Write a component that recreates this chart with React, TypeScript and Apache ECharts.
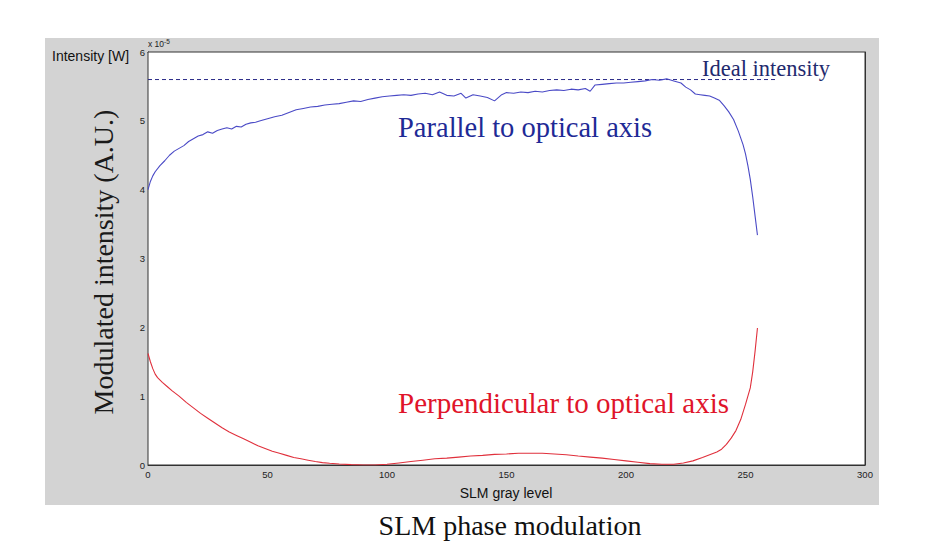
import React, { useEffect, useRef } from "react";
import * as echarts from "echarts";

// gray levels and measured intensities (x 10^-5 W)
const parallelX = [0, 1, 2, 3, 5, 7, 9, 11, 13, 15, 17, 19, 21, 23, 25, 27, 29, 31, 33, 35, 37, 39, 41, 43, 45, 47, 50, 53, 56, 59, 62, 65, 68, 71, 74, 77, 80, 83, 86, 89, 92, 95, 98, 101, 104, 107, 110, 113, 116, 119, 122, 125, 128, 131, 133, 136, 139, 142, 145, 148, 150, 153, 156, 159, 162, 165, 168, 171, 174, 177, 180, 183, 185, 187, 190, 193, 196, 199, 202, 205, 208, 211, 214, 217, 220, 223, 225, 227, 229, 231, 233, 235, 237, 239, 241, 243, 245, 247, 249, 250, 251, 252, 253, 254, 255];
const parallelY = [4.0, 4.12, 4.2, 4.26, 4.35, 4.42, 4.5, 4.56, 4.6, 4.64, 4.7, 4.74, 4.78, 4.8, 4.84, 4.82, 4.86, 4.88, 4.9, 4.88, 4.92, 4.91, 4.95, 4.97, 4.98, 5.0, 5.03, 5.06, 5.08, 5.12, 5.16, 5.18, 5.2, 5.21, 5.23, 5.24, 5.25, 5.27, 5.29, 5.28, 5.31, 5.33, 5.35, 5.36, 5.37, 5.38, 5.37, 5.39, 5.4, 5.38, 5.42, 5.37, 5.36, 5.4, 5.33, 5.38, 5.36, 5.34, 5.29, 5.38, 5.41, 5.4, 5.42, 5.41, 5.43, 5.42, 5.44, 5.45, 5.44, 5.46, 5.45, 5.47, 5.43, 5.52, 5.53, 5.54, 5.55, 5.55, 5.56, 5.57, 5.58, 5.6, 5.59, 5.61, 5.58, 5.55, 5.49, 5.45, 5.39, 5.38, 5.37, 5.36, 5.33, 5.3, 5.22, 5.13, 5.02, 4.85, 4.65, 4.52, 4.35, 4.15, 3.9, 3.62, 3.34];

const perpX = [0, 1, 2, 3, 4, 6, 8, 10, 13, 16, 19, 22, 25, 28, 31, 34, 37, 40, 43, 46, 49, 52, 55, 58, 61, 64, 67, 70, 73, 76, 80, 85, 90, 95, 100, 105, 110, 115, 120, 125, 130, 135, 140, 145, 150, 155, 160, 165, 170, 175, 180, 185, 190, 195, 200, 205, 210, 215, 220, 224, 228, 232, 235, 238, 240, 242, 244, 246, 248, 250, 252, 253, 254, 255];
const perpY = [1.62, 1.5, 1.4, 1.32, 1.27, 1.2, 1.14, 1.08, 1.0, 0.91, 0.83, 0.75, 0.68, 0.61, 0.54, 0.48, 0.43, 0.38, 0.33, 0.28, 0.24, 0.2, 0.17, 0.14, 0.11, 0.09, 0.07, 0.05, 0.035, 0.025, 0.015, 0.005, 0.0, 0.0, 0.01, 0.03, 0.05, 0.07, 0.09, 0.1, 0.115, 0.13, 0.14, 0.155, 0.16, 0.17, 0.17, 0.17, 0.16, 0.15, 0.13, 0.115, 0.1, 0.08, 0.06, 0.04, 0.02, 0.01, 0.01, 0.03, 0.06, 0.11, 0.15, 0.19, 0.23, 0.3, 0.39, 0.5, 0.66, 0.88, 1.12, 1.35, 1.65, 1.99];

const idealX = [0, 263];
const idealY = [5.6, 5.6];

const xTicks = { min: 0, max: 300, interval: 50 };
const yTicks = { min: 0, max: 6, interval: 1 };

const pairs = (xs: number[], ys: number[]) => xs.map((x, i) => [x, ys[i]]);

export default function App() {
  const ref = useRef<HTMLDivElement>(null);
  useEffect(() => {
    if (!ref.current) return;
    const chart = echarts.init(ref.current, undefined, { renderer: "svg" });
    const axisCommon = {
      type: "value" as const,
      splitLine: { show: false },
      axisLine: { show: true, onZero: false, lineStyle: { color: "#333", width: 1 } },
      axisTick: { show: true, inside: true, length: 5, lineStyle: { color: "#333" } },
    };
    const serif = "'Liberation Serif', 'Times New Roman', serif";
    chart.setOption({
      animation: false,
      backgroundColor: "#fff",
      grid: {
        left: 148,
        right: 76,
        top: 52,
        bottom: 90,
        show: true,
        backgroundColor: "#fff",
        borderColor: "#333",
        borderWidth: 1,
        z: 1,
      },
      xAxis: [
        {
          ...axisCommon,
          ...xTicks,
          position: "bottom",
          axisLabel: { fontFamily: "Liberation Sans, Arial", fontSize: 9.5, color: "#222", margin: 4 },
        },
        {
          ...axisCommon,
          ...xTicks,
          position: "top",
          axisLabel: { show: false },
        },
      ],
      yAxis: [
        {
          ...axisCommon,
          ...yTicks,
          position: "left",
          axisLabel: { fontFamily: "Liberation Sans, Arial", fontSize: 9.5, color: "#222", margin: 3 },
        },
        {
          ...axisCommon,
          ...yTicks,
          position: "right",
          axisLabel: { show: false },
        },
      ],
      series: [
        {
          type: "line",
          data: pairs(idealX, idealY),
          showSymbol: false,
          lineStyle: { color: "#2a2a88", width: 1, type: [4, 3] },
          z: 3,
        },
        {
          type: "line",
          data: pairs(parallelX, parallelY),
          showSymbol: false,
          lineStyle: { color: "#4a4ac6", width: 1.1 },
          z: 4,
        },
        {
          type: "line",
          data: pairs(perpX, perpY),
          showSymbol: false,
          lineStyle: { color: "#e0303c", width: 1.1 },
          z: 4,
        },
      ],
      graphic: [
        {
          type: "rect",
          shape: { x: 45, y: 38, width: 834, height: 467 },
          style: { fill: "#d3d3d3" },
          z: -10,
          silent: true,
        },
        {
          type: "text",
          x: 52,
          y: 56,
          style: {
            text: "Intensity [W]",
            font: "14px 'Liberation Sans', Arial",
            fill: "#111",
            verticalAlign: "middle",
          },
          z: 10,
        },
        {
          type: "text",
          x: 148,
          y: 44,
          style: {
            text: "{a|x 10}{b|-5}",
            rich: {
              a: { fontFamily: "Liberation Sans, Arial", fontSize: 8.5, fill: "#222" },
              b: { fontFamily: "Liberation Sans, Arial", fontSize: 6.5, fill: "#222", verticalAlign: "top", padding: [0, 0, 6, 0] },
            },
            verticalAlign: "middle",
          },
          z: 10,
        },
        {
          type: "text",
          x: 506,
          y: 493,
          style: {
            text: "SLM gray level",
            font: "14px 'Liberation Sans', Arial",
            fill: "#111",
            align: "center",
            verticalAlign: "middle",
          },
          z: 10,
        },
        {
          type: "text",
          x: 103,
          y: 262,
          rotation: Math.PI / 2,
          style: {
            text: "Modulated intensity (A.U.)",
            font: "28px " + serif,
            fill: "#1a1a1a",
            align: "center",
            verticalAlign: "middle",
          },
          z: 10,
        },
        {
          type: "text",
          x: 398,
          y: 127,
          style: {
            text: "Parallel to optical axis",
            font: "28.5px " + serif,
            fill: "#1e2a96",
            verticalAlign: "middle",
          },
          z: 10,
        },
        {
          type: "text",
          x: 398,
          y: 403,
          style: {
            text: "Perpendicular to optical axis",
            font: "29px " + serif,
            fill: "#e0142a",
            verticalAlign: "middle",
          },
          z: 10,
        },
        {
          type: "text",
          x: 702,
          y: 68,
          style: {
            text: "Ideal intensity",
            font: "22.5px " + serif,
            fill: "#1f2a6e",
            verticalAlign: "middle",
          },
          z: 10,
        },
        {
          type: "text",
          x: 510,
          y: 525,
          style: {
            text: "SLM phase modulation",
            font: "28px " + serif,
            fill: "#111",
            align: "center",
            verticalAlign: "middle",
          },
          z: 10,
        },
      ],
    });
    return () => chart.dispose();
  }, []);
  return (
    <div
      ref={ref}
      style={{ position: "absolute", left: 0, top: 0, width: 941, height: 555 }}
    />
  );
}
